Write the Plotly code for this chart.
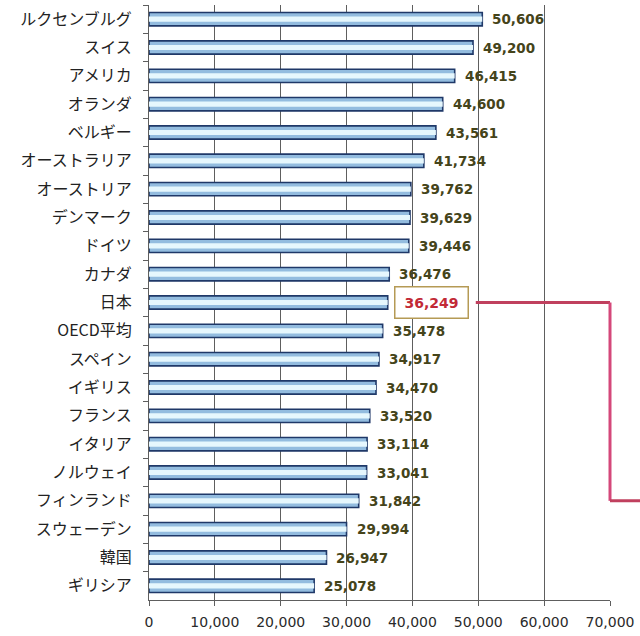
import plotly.graph_objects as go

# 一人当たりGDP(米ドル)
countries = [
    "ルクセンブルグ", "スイス", "アメリカ", "オランダ", "ベルギー",
    "オーストラリア", "オーストリア", "デンマーク", "ドイツ", "カナダ",
    "日本", "OECD平均", "スペイン", "イギリス", "フランス",
    "イタリア", "ノルウェイ", "フィンランド", "スウェーデン", "韓国", "ギリシア",
]
values = [
    50606, 49200, 46415, 44600, 43561,
    41734, 39762, 39629, 39446, 36476,
    36249, 35478, 34917, 34470, 33520,
    33114, 33041, 31842, 29994, 26947, 25078,
]
x_ticks = [0, 10000, 20000, 30000, 40000, 50000, 60000, 70000]
x_max = 70000
highlight = "日本"
callout_target = "フィンランド"

W, H = 640, 636
M_L, M_R, M_T, M_B = 149, 25, 5, 36
plot_w = W - M_L - M_R

fig = go.Figure()

# outer bar body with dark outline
fig.add_trace(go.Bar(
    x=values, y=countries, orientation="h", width=0.47,
    marker=dict(color="#93bcdf", line=dict(color="#1f3868", width=1.6)),
    hoverinfo="skip", showlegend=False,
))
# light highlight stripe inside each bar
fig.add_trace(go.Bar(
    x=values, y=countries, orientation="h", width=0.18,
    marker=dict(color="#e6f7fd", line=dict(width=0)),
    hoverinfo="skip", showlegend=False,
))

label_font = dict(family="DejaVu Sans", size=13.5, color="#45441a")
annotations = []
for name, v in zip(countries, values):
    if name == highlight:
        annotations.append(dict(
            x=v, y=name, xref="x", yref="y", text=f"<b>{v:,}</b>",
            showarrow=False, xanchor="left", yanchor="middle", xshift=6,
            font=dict(family="DejaVu Sans", size=14, color="#c22a36"),
            bgcolor="white", bordercolor="#b59a55", borderwidth=1.5,
            borderpad=5, width=62, height=20,
        ))
    else:
        annotations.append(dict(
            x=v, y=name, xref="x", yref="y", text=f"<b>{v:,}</b>",
            showarrow=False, xanchor="left", yanchor="middle", xshift=8,
            font=label_font,
        ))

# callout connector from the highlighted label out past the right edge
n = len(countries)
i_hi = countries.index(highlight)
i_to = countries.index(callout_target)
y_hi = 1 - (i_hi + 0.5) / n
y_to = 1 - (i_to + 0.5) / n
hi_val = values[i_hi]
x_start = hi_val / x_max + (6 + 78 + 5) / plot_w
line_style = dict(color="#c0405e", width=3)
shapes = [
    dict(type="line", xref="paper", yref="paper", x0=x_start, x1=1.0,
         y0=y_hi, y1=y_hi, line=line_style, layer="above"),
    dict(type="line", xref="paper", yref="paper", x0=1.0, x1=1.0,
         y0=y_hi, y1=y_to, line=dict(color="#d4487a", width=3), layer="above"),
    dict(type="line", xref="paper", yref="paper", x0=1.0, x1=1.2,
         y0=y_to, y1=y_to, line=line_style, layer="above"),
]

fig.update_layout(
    width=W, height=H,
    margin=dict(l=M_L, r=M_R, t=M_T, b=M_B, pad=0),
    paper_bgcolor="white", plot_bgcolor="white",
    barmode="overlay",
    annotations=annotations,
    shapes=shapes,
    xaxis=dict(
        range=[0, x_max], tickvals=x_ticks,
        ticktext=[f"{t:,}" for t in x_ticks],
        showgrid=True, gridcolor="#5e5e5e", gridwidth=1,
        showline=True, linecolor="#5e5e5e", linewidth=1,
        ticks="outside", ticklen=5, tickcolor="#5e5e5e",
        ticklabelstandoff=4,
        tickfont=dict(family="DejaVu Sans", size=14, color="#2a2a2a"),
        zeroline=False, fixedrange=True,
    ),
    yaxis=dict(
        categoryorder="array", categoryarray=countries,
        autorange="reversed",
        showline=True, linecolor="#5e5e5e", linewidth=1,
        ticks="outside", ticklen=5, tickcolor="#5e5e5e",
        tickson="boundaries", ticklabelstandoff=13,
        tickfont=dict(family="Noto Sans CJK JP", size=16, color="#222222"),
        showgrid=False, zeroline=False, fixedrange=True,
    ),
    font=dict(family="Noto Sans CJK JP"),
)

fig.write_html("out.html", config={"displayModeBar": False})
